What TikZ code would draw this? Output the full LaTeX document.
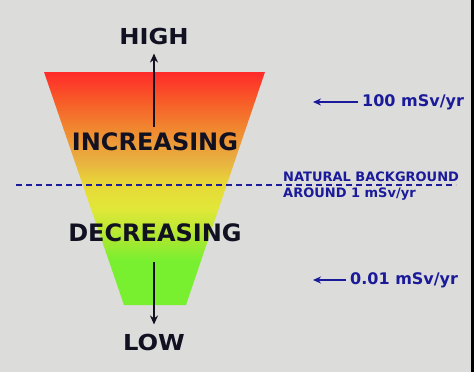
\documentclass[tikz,border=0pt]{standalone}
\usepackage{fontspec}
\setmainfont{DejaVu Sans}
\definecolor{bg}{HTML}{DCDCDA}
\definecolor{txtblack}{HTML}{111122}
\definecolor{txtblue}{HTML}{1A1A9A}
\definecolor{cred}{HTML}{FF2A2A}
\definecolor{cred2}{HTML}{F85A28}
\definecolor{corange}{HTML}{F08A30}
\definecolor{camber}{HTML}{E8B040}
\definecolor{cyellow}{HTML}{E8D838}
\definecolor{cyellow2}{HTML}{E0E838}
\definecolor{cygreen}{HTML}{A8E830}
\definecolor{cgreen}{HTML}{78F030}
% stops mapped into 25bp..75bp (the part TikZ fits to the path)
\pgfdeclareverticalshading{funnel}{100bp}{%
  color(0bp)=(cgreen); color(25bp)=(cgreen); color(34.5bp)=(cgreen); color(39bp)=(cygreen);
  color(45.5bp)=(cyellow2); color(51bp)=(cyellow); color(56bp)=(camber);
  color(62.5bp)=(corange); color(69bp)=(cred2); color(75bp)=(cred); color(100bp)=(cred)}
\tikzset{
  bigtxt/.style={font=\bfseries\fontsize{24}{24}\selectfont, text=txtblack, inner sep=0pt},
  endtxt/.style={font=\bfseries\fontsize{22}{22}\selectfont, text=txtblack, inner sep=0pt},
  bluetxt/.style={font=\bfseries\fontsize{16}{16}\selectfont, text=txtblue, inner sep=0pt, anchor=west},
  smallblue/.style={font=\bfseries\fontsize{13}{13}\selectfont, text=txtblue, inner sep=0pt, anchor=west},
  blackarrow/.style={draw=txtblack, line width=2.4pt, -{Stealth[length=9pt,width=8pt]}},
  bluearrow/.style={draw=txtblue, line width=2.4pt, -{Stealth[length=8pt,width=7pt]}},
}
\usetikzlibrary{arrows.meta}
\begin{document}
\begin{tikzpicture}[x=1pt,y=-1pt]
\useasboundingbox (0,0) rectangle (474,372);
\fill[bg] (0,0) rectangle (474,372);
\fill[black] (471,0) rectangle (474,372);
% funnel
\shade[shading=funnel] (44,72) -- (265,72) -- (186,305) -- (124,305) -- cycle;
% dashed background line
\coordinate (dL) at (16,185);
\coordinate (dR) at (456,185);
\draw[txtblue, line width=1.6pt, dash pattern=on 6pt off 4pt] (dL) -- (dR);
% texts
\node[endtxt, xscale=1.1] (high) at (154,36) {HIGH};
\node[endtxt, xscale=1.1] (low) at (154,342) {LOW};
\node[bigtxt] (inc) at (155,142) {INCREASING};
\node[bigtxt] (dec) at (155,233) {DECREASING};
\coordinate (upstart) at (154,127);
\coordinate (downstart) at (154,262);
\draw[blackarrow, shorten >=9pt] (upstart) -- (upstart |- high.south);
\draw[blackarrow, shorten >=9pt] (downstart) -- (downstart |- low.north);
% right labels
\node[bluetxt] (hundred) at (362,102) {100 mSv/yr};
\node[bluetxt] (tiny) at (350,280) {0.01 mSv/yr};
\node[smallblue] (nat) at (283,177) {NATURAL BACKGROUND};
\node[smallblue] (around) at (283,194) {AROUND 1 mSv/yr};
\coordinate (a1) at (313,102);
\coordinate (a2) at (313,280);
\draw[bluearrow] ([xshift=-4pt]hundred.west) -- (a1);
\draw[bluearrow] ([xshift=-4pt]tiny.west) -- (a2);
\end{tikzpicture}
\end{document}
